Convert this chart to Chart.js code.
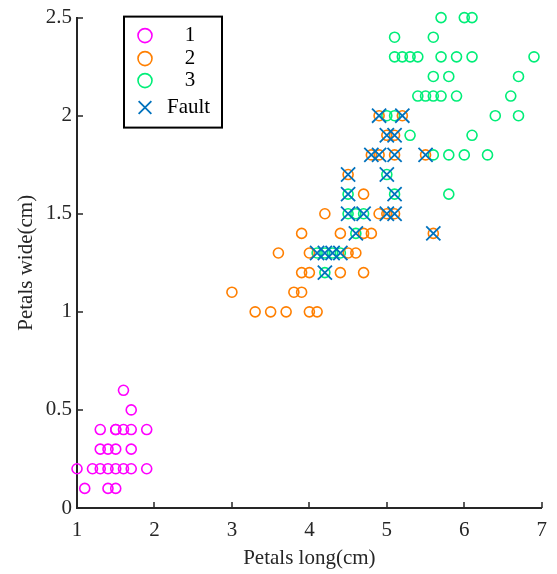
<!DOCTYPE html>
<html>
<head>
<meta charset="utf-8">
<title>Petals scatter</title>
<script src="https://cdn.jsdelivr.net/npm/chart.js@4/dist/chart.umd.min.js"></script>
<style>
  body { margin: 0; background: #fff; }
  #wrap { width: 557px; height: 574px; }
</style>
</head>
<body>
<div id="wrap"><canvas id="chart" width="557" height="574"></canvas></div>
<script>
// Data (petal length / width in cm)
const class1Long = [1.6, 1.7, 1.3, 1.5, 1.5, 1.6, 1.7, 1.9, 1.3, 1.4, 1.5, 1.7,
  1.0, 1.2, 1.3, 1.4, 1.5, 1.6, 1.7, 1.9, 1.1, 1.4, 1.5];
const class1Wide = [0.6, 0.5, 0.4, 0.4, 0.4, 0.4, 0.4, 0.4, 0.3, 0.3, 0.3, 0.3,
  0.2, 0.2, 0.2, 0.2, 0.2, 0.2, 0.2, 0.2, 0.1, 0.1, 0.1];

const class2Long = [4.9, 5.2, 5.0, 5.1, 4.8, 4.9, 5.1, 5.5, 4.5, 4.7,
  4.2, 4.9, 5.0, 5.1, 3.9, 4.4, 4.7, 4.8, 5.6, 3.6, 4.0, 4.5, 4.6,
  3.9, 4.0, 4.4, 4.7, 3.0, 3.8, 3.9, 3.3, 3.5, 3.7, 4.0, 4.1];
const class2Wide = [2.0, 2.0, 1.9, 1.9, 1.8, 1.8, 1.8, 1.8, 1.7, 1.6,
  1.5, 1.5, 1.5, 1.5, 1.4, 1.4, 1.4, 1.4, 1.4, 1.3, 1.3, 1.3, 1.3,
  1.2, 1.2, 1.2, 1.2, 1.1, 1.1, 1.1, 1.0, 1.0, 1.0, 1.0, 1.0];

const class3Long = [5.7, 6.0, 6.1, 5.1, 5.6, 5.1, 5.2, 5.3, 5.4, 5.7, 5.9, 6.1, 6.9,
  5.6, 5.8, 6.7, 5.4, 5.5, 5.6, 5.7, 5.9, 6.6, 5.0, 5.1, 6.4, 6.7,
  5.3, 6.1, 5.6, 5.8, 6.0, 6.3, 5.0, 4.5, 5.1, 5.8, 4.5, 4.6, 4.7,
  4.6, 4.1, 4.2, 4.3, 4.4, 4.2];
const class3Wide = [2.5, 2.5, 2.5, 2.4, 2.4, 2.3, 2.3, 2.3, 2.3, 2.3, 2.3, 2.3, 2.3,
  2.2, 2.2, 2.2, 2.1, 2.1, 2.1, 2.1, 2.1, 2.1, 2.0, 2.0, 2.0, 2.0,
  1.9, 1.9, 1.8, 1.8, 1.8, 1.8, 1.7, 1.6, 1.6, 1.6, 1.5, 1.5, 1.5,
  1.4, 1.3, 1.3, 1.3, 1.3, 1.2];

const faultLong = [4.9, 5.2, 5.0, 5.1, 4.8, 4.9, 5.1, 5.5, 4.5, 5.0, 4.5, 5.1,
  4.5, 4.7, 5.0, 5.1, 4.6, 5.6, 4.1, 4.2, 4.3, 4.4, 4.2];
const faultWide = [2.0, 2.0, 1.9, 1.9, 1.8, 1.8, 1.8, 1.8, 1.7, 1.7, 1.6, 1.6,
  1.5, 1.5, 1.5, 1.5, 1.4, 1.4, 1.3, 1.3, 1.3, 1.3, 1.2];

const xTicks = [1, 2, 3, 4, 5, 6, 7];
const yTicks = [0, 0.5, 1, 1.5, 2, 2.5];

const seriesLabels = ['1', '2', '3', 'Fault'];

const serif = 'Liberation Serif, Times New Roman, serif';
const axisColor = '#262626';

function toPoints(xs, ys) {
  return xs.map((x, i) => ({ x: x, y: ys[i] }));
}

// Inward tick marks, MATLAB style
const innerTicks = {
  id: 'innerTicks',
  afterDatasetsDraw(chart) {
    const ctx = chart.ctx;
    const area = chart.chartArea;
    const xs = chart.scales.x;
    const ys = chart.scales.y;
    ctx.save();
    ctx.strokeStyle = axisColor;
    ctx.lineWidth = 1.5;
    ctx.beginPath();
    xTicks.forEach(v => {
      const px = Math.round(xs.getPixelForValue(v));
      ctx.moveTo(px, area.bottom);
      ctx.lineTo(px, area.bottom - 6);
    });
    yTicks.forEach(v => {
      const py = Math.round(ys.getPixelForValue(v));
      ctx.moveTo(area.left, py);
      ctx.lineTo(area.left + 6, py);
    });
    ctx.stroke();
    ctx.restore();
  }
};

// Boxed legend inside the plot
const boxLegend = {
  id: 'boxLegend',
  afterDraw(chart) {
    const ctx = chart.ctx;
    const area = chart.chartArea;
    const left = area.left + 47;
    const top = area.top - 1;
    const w = 98;
    const h = 111;
    ctx.save();
    ctx.fillStyle = '#fff';
    ctx.fillRect(left, top, w, h);
    ctx.strokeStyle = '#000';
    ctx.lineWidth = 2;
    ctx.strokeRect(left, top, w, h);

    ctx.font = '21px ' + serif;
    ctx.textBaseline = 'middle';
    const rows = [19, 42, 64, 91];
    chart.data.datasets.forEach((ds, i) => {
      const y = top + rows[i];
      // marker
      ctx.fillStyle = 'rgba(0,0,0,0)';
      ctx.strokeStyle = ds.borderColor;
      ctx.lineWidth = ds.borderWidth;
      Chart.helpers.drawPoint(ctx, {
        pointStyle: ds.pointStyle,
        radius: ds.pointStyle === 'crossRot' ? 9 : 7,
        borderWidth: ds.borderWidth
      }, left + 21, y);
      // label
      ctx.fillStyle = '#000';
      if (ds.label === 'Fault') {
        ctx.textAlign = 'left';
        ctx.fillText(ds.label, left + 43, y);
      } else {
        ctx.textAlign = 'center';
        ctx.fillText(ds.label, left + 66, y);
      }
    });
    ctx.restore();
  }
};

const chart = new Chart(document.getElementById('chart'), {
  type: 'scatter',
  data: {
    datasets: [
      {
        label: seriesLabels[0],
        data: toPoints(class1Long, class1Wide),
        pointStyle: 'circle',
        borderColor: '#ff00ff',
        backgroundColor: 'rgba(0,0,0,0)',
        borderWidth: 1.6,
        pointRadius: 5,
        order: 3,
        clip: false
      },
      {
        label: seriesLabels[1],
        data: toPoints(class2Long, class2Wide),
        pointStyle: 'circle',
        borderColor: '#ff7f00',
        backgroundColor: 'rgba(0,0,0,0)',
        borderWidth: 1.6,
        pointRadius: 5,
        order: 1,
        clip: false
      },
      {
        label: seriesLabels[2],
        data: toPoints(class3Long, class3Wide),
        pointStyle: 'circle',
        borderColor: '#00ee78',
        backgroundColor: 'rgba(0,0,0,0)',
        borderWidth: 1.6,
        pointRadius: 5,
        order: 2,
        clip: false
      },
      {
        label: seriesLabels[3],
        data: toPoints(faultLong, faultWide),
        pointStyle: 'crossRot',
        borderColor: '#0072bd',
        backgroundColor: '#0072bd',
        borderWidth: 1.8,
        pointRadius: 10,
        order: 0,
        clip: false
      }
    ]
  },
  options: {
    responsive: false,
    animation: false,
    devicePixelRatio: 1,
    events: [],
    layout: { padding: { top: 17, right: 12, left: 0, bottom: 0 } },
    plugins: {
      legend: { display: false },
      tooltip: { enabled: false }
    },
    scales: {
      x: {
        type: 'linear',
        min: 1,
        max: 7,
        afterFit: scale => { scale.height = 66; },
        afterBuildTicks: scale => { scale.ticks = xTicks.map(v => ({ value: v })); },
        ticks: {
          color: axisColor,
          font: { family: serif, size: 21 },
          padding: 10,
          maxRotation: 0,
          callback: v => String(v)
        },
        grid: { display: false, drawTicks: false },
        border: { display: true, color: axisColor, width: 2 },
        title: {
          display: true,
          text: 'Petals long(cm)',
          color: axisColor,
          font: { family: serif, size: 21 },
          padding: { top: 0, bottom: 3 }
        }
      },
      y: {
        type: 'linear',
        min: 0,
        max: 2.5,
        afterFit: scale => { scale.width = 77; },
        afterBuildTicks: scale => { scale.ticks = yTicks.map(v => ({ value: v })); },
        ticks: {
          color: axisColor,
          font: { family: serif, size: 21 },
          padding: 5,
          callback: v => String(v)
        },
        grid: { display: false, drawTicks: false },
        border: { display: true, color: axisColor, width: 2 },
        title: {
          display: true,
          text: 'Petals wide(cm)',
          color: axisColor,
          font: { family: serif, size: 21 },
          padding: { top: 14, bottom: 0 }
        }
      }
    }
  },
  plugins: [innerTicks, boxLegend]
});
</script>
</body>
</html>
